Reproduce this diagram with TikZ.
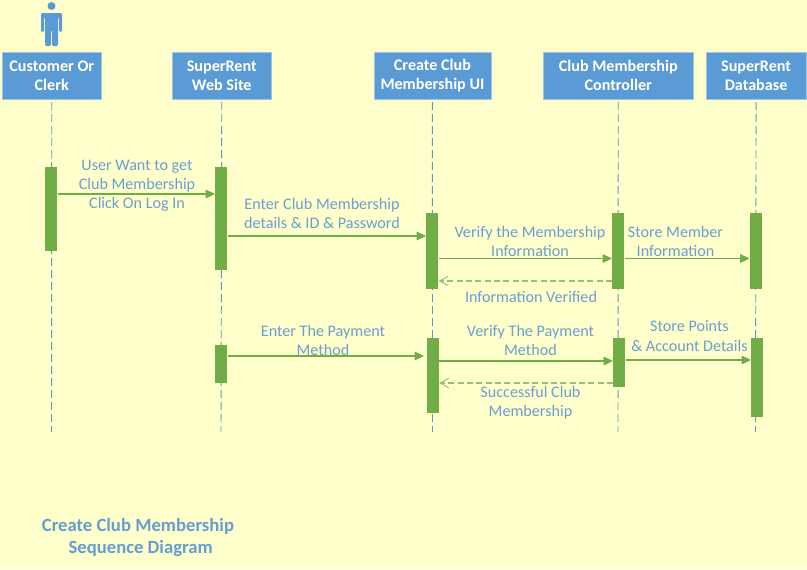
\documentclass[tikz,border=0pt]{standalone}
\usepackage{fontspec}
\setmainfont{Carlito}
\usetikzlibrary{arrows.meta}
\definecolor{bgc}{HTML}{FFFFCC}
\definecolor{bluec}{HTML}{5B9BD5}
\definecolor{greenc}{HTML}{70AD47}
\definecolor{txtc}{HTML}{6A9FCF}
\tikzset{
  px/.style={x=0.75pt,y=-0.75pt},
  head/.style={fill=bluec,draw=bluec!60!white,line width=0.4pt,inner sep=0pt,text=white,font=\fontsize{12.1}{14.2}\selectfont\bfseries,align=center,minimum height=35.25pt,anchor=north west},
  bar/.style={fill=greenc,inner sep=0pt,minimum width=9pt,anchor=north west},
  life/.style={draw=bluec!85!gray,line width=0.7pt,dash pattern=on 6pt off 3pt,shorten <=2pt},
  msg/.style={draw=greenc,line width=0.8pt,-{Triangle[length=7pt,width=6.5pt,fill=greenc]}},
  ret/.style={draw=greenc!75!white,line width=0.9pt,dash pattern=on 4.5pt off 2.5pt,-{Straight Barb[length=6.5pt,width=7pt,line width=0.7pt]}},
  lab/.style={text=txtc,font=\fontsize{12.1}{14.3}\selectfont,align=center,inner sep=0pt},
  ttl/.style={text=txtc!70!bluec,font=\fontsize{14}{16.5}\selectfont\bfseries,inner sep=0pt}
}
\begin{document}
\begin{tikzpicture}[px]
\useasboundingbox (0,0) rectangle (807,569);
\fill[bgc] (0,0) rectangle (807,569);
% lifelines
\coordinate (ea) at (51.5,432); \coordinate (eb) at (221,432); \coordinate (ec) at (432.5,432);
\coordinate (ed) at (618,432); \coordinate (ee) at (755.5,432);
% headers
\node[head,minimum width=74.25pt] (ha) at (2,52) {Customer Or\\Clerk};
\node[head,minimum width=74.25pt] (hb) at (172,52) {SuperRent\\Web Site};
\node[head,minimum width=88pt] (hc) at (373.5,52) {Create Club\\Membership UI};
\node[head,minimum width=112.5pt] (hd) at (543,52) {Club Membership\\Controller};
\node[head,minimum width=75.5pt] (he) at (705.5,52) {SuperRent\\Database};
\foreach \h/\e in {ha/ea,hb/eb,hc/ec,hd/ed,he/ee} \draw[life] (\h.south) -- (\e);
% actor
\fill[bluec] (51.5,6) circle (4);
\fill[bluec,rounded corners=1pt] (41,32) -- (41,13) -- (62,13) -- (62,32) -- (59,32) -- (59,17) -- (58,17) -- (58,46) -- (52,46) -- (52,30) -- (51,30) -- (51,46) -- (45,46) -- (45,17) -- (44,17) -- (44,32) -- cycle;
% bars
\node[bar,minimum height=63pt] (a1) at (45,167) {};
\node[bar,minimum height=77.25pt] (b1) at (215,167) {};
\node[bar,minimum height=57pt] (c1) at (426,213) {};
\node[bar,minimum height=57pt] (d1) at (612,213) {};
\node[bar,minimum height=57pt] (e1) at (749.5,213) {};
\node[bar,minimum height=28.5pt] (b2) at (215,345) {};
\node[bar,minimum height=56.25pt] (c2) at (426.5,338) {};
\node[bar,minimum height=36.75pt] (d2) at (613,338) {};
\node[bar,minimum height=59.25pt] (e2) at (751,338) {};
% messages
\draw[msg] ([shift={(0,27)}]a1.north east) -- ([shift={(0,27)}]b1.north west);
\draw[msg] ([shift={(0,69)}]b1.north east) -- ([shift={(0,23)}]c1.north west);
\draw[msg] ([shift={(0,45.5)}]c1.north east) -- ([shift={(0,45.5)}]d1.north west);
\draw[msg] ([shift={(0,45.5)}]d1.north east) -- ([shift={(0,45.5)}]e1.north west);
\draw[ret] ([shift={(0,68)}]d1.north west) -- ([shift={(0,68)}]c1.north east);
\draw[msg] ([shift={(0,11)}]b2.north east) -- ([shift={(-2.5,18)}]c2.north west);
\draw[msg] ([shift={(0,23)}]c2.north east) -- ([shift={(0,23)}]d2.north west);
\draw[msg] ([shift={(0,22)}]d2.north east) -- ([shift={(0,22)}]e2.north west);
\draw[ret] ([shift={(0,45)}]d2.north west) -- ([shift={(0,45)}]c2.north east);
% labels
\node[lab] (l1) at (137,185.5) {User Want to get\\Club Membership\\Click On Log In};
\node[lab] (l2) at (322,213.5) {Enter Club Membership\\details \& ID \& Password};
\node[lab] (l3) at (530,241) {Verify the Membership\\Information};
\node[lab] (l4) at (675.5,241.5) {Store Member\\Information};
\node[lab] (l5) at (531,297) {Information Verified};
\node[lab] (l6) at (323,340) {Enter The Payment\\Method};
\node[lab] (l7) at (530.5,340) {Verify The Payment\\Method};
\node[lab] (l8) at (689.5,336) {Store Points\\\& Account Details};
\node[lab] (l9) at (530.5,402.5) {Successful Club\\Membership};
\node[ttl,align=center] (t) at (138,537.5) {Create Club Membership\\\hspace*{4pt}Sequence Diagram};
\end{tikzpicture}
\end{document}
